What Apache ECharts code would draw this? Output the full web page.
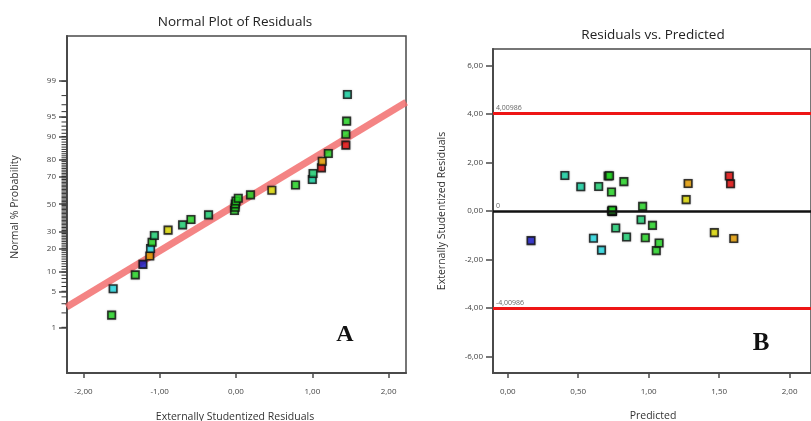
<!DOCTYPE html>
<html>
<head>
<meta charset="utf-8">
<script src="https://cdn.jsdelivr.net/npm/echarts@6/dist/echarts.min.js"></script>
<style>
  html, body { margin: 0; padding: 0; background: #ffffff; }
  #chart { width: 811px; height: 421px; }
</style>
</head>
<body>
<div id="chart"></div>
<script>
// ---- Design runs, ordered by externally studentized residual (ascending) ----
const residuals = [
  -1.63, -1.61, -1.32, -1.22, -1.13, -1.12, -1.10, -1.07, -0.89, -0.70,
  -0.59, -0.36, -0.02, -0.01, -0.01, 0.00, 0.03, 0.19, 0.47, 0.78,
  1.00, 1.01, 1.12, 1.13, 1.21, 1.44, 1.44, 1.45, 1.46
];
// Normal % probability of each ranked residual
const normalPct = [
  1.8, 5.5, 9.1, 12.8, 16.4, 20.1, 23.6, 27.7, 31.2, 34.8,
  38.6, 42.0, 45.3, 47.7, 50.2, 52.4, 54.5, 57.0, 60.4, 64.2,
  68.0, 71.9, 75.4, 79.2, 83.1, 86.8, 90.7, 94.2, 98.1
];
// Predicted response of each run
const predicted = [
  1.054, 0.665, 1.074, 0.165, 1.604, 0.608, 0.976, 0.843, 1.466, 0.766,
  1.027, 0.946, 0.741, 0.741, 0.741, 0.741, 0.741, 0.957, 1.266, 0.736,
  0.518, 0.645, 1.581, 1.280, 0.824, 1.572, 0.712, 0.722, 0.405
];
// Response band of each run (0 = lowest response ... 7 = highest)
const responseBand = [
  4, 1, 4, 0, 6, 1, 4, 3, 5, 3,
  4, 3, 4, 4, 4, 4, 4, 4, 5, 4,
  2, 3, 7, 6, 4, 7, 4, 4, 2
];

// Reference line of the normal plot (residual, % probability at its ends)
const fitResid = [-2.22, 2.23];
const fitPct = [2.6, 97.3];

// Control limits on the residuals vs. predicted plot
const limitValues = [4.00986, 0, -4.00986];
const limitLabels = ['4,00986', '0', '-4,00986'];

// Tick values
const probLabelTicks = [1, 5, 10, 20, 30, 50, 70, 80, 90, 95, 99];
const residTicks = [-2, -1, 0, 1, 2];
const predTicks = [0, 0.5, 1, 1.5, 2];
const resYTicks = [-6, -4, -2, 0, 2, 4, 6];

// ---- styling ----
const bandColors = ['#1b1bd0', '#28e4ec', '#14d8a6', '#1ed878', '#26e026', '#e6e200', '#f0a400', '#ee0a0a'];
const axisColor = '#4a4a4a';
const labelColor = '#444444';
const uiFont = '"Open Sans", "Noto Sans", sans-serif';

const residMin = -2.215, residMax = 2.228;
const zMin = -3.19, zMax = 3.18;

// inverse standard normal CDF (probability paper scale)
function probit(p) {
  const a = [-3.969683028665376e+01, 2.209460984245205e+02, -2.759285104469687e+02, 1.383577518672690e+02, -3.066479806614716e+01, 2.506628277459239e+00];
  const b = [-5.447609879822406e+01, 1.615858368580409e+02, -1.556989798598866e+02, 6.680131188771972e+01, -1.328068155288572e+01];
  const c = [-7.784894002430293e-03, -3.223964580411365e-01, -2.400758277161838e+00, -2.549732539343734e+00, 4.374664141464968e+00, 2.938163982698783e+00];
  const d = [7.784695709041462e-03, 3.224671290700398e-01, 2.445134137142996e+00, 3.754408661907416e+00];
  const pl = 0.02425, ph = 1 - pl;
  let q, r;
  if (p < pl) {
    q = Math.sqrt(-2 * Math.log(p));
    return (((((c[0] * q + c[1]) * q + c[2]) * q + c[3]) * q + c[4]) * q + c[5]) / ((((d[0] * q + d[1]) * q + d[2]) * q + d[3]) * q + 1);
  }
  if (p <= ph) {
    q = p - 0.5; r = q * q;
    return (((((a[0] * r + a[1]) * r + a[2]) * r + a[3]) * r + a[4]) * r + a[5]) * q / (((((b[0] * r + b[1]) * r + b[2]) * r + b[3]) * r + b[4]) * r + 1);
  }
  q = Math.sqrt(-2 * Math.log(1 - p));
  return -(((((c[0] * q + c[1]) * q + c[2]) * q + c[3]) * q + c[4]) * q + c[5]) / ((((d[0] * q + d[1]) * q + d[2]) * q + d[3]) * q + 1);
}

// minor ticks at every whole percent on the probability axis
const probMinorTicks = [];
for (let p = 1; p <= 99; p++) probMinorTicks.push(p);

const probLabelZ = probLabelTicks.map(p => probit(p / 100));
const probMinorZ = probMinorTicks.map(p => probit(p / 100));

function probFormatter(v) {
  let best = 0;
  probLabelZ.forEach((z, i) => { if (Math.abs(z - v) < Math.abs(probLabelZ[best] - v)) best = i; });
  return String(probLabelTicks[best]);
}
const commaFmt = v => v.toFixed(2).replace('.', ',');

const tickLabelStyle = { color: labelColor, fontSize: 8, fontFamily: uiFont };
const markerStyle = { borderColor: '#111111', borderWidth: 1.6, shadowBlur: 2, shadowColor: 'rgba(0,0,0,0.35)' };

const chart = echarts.init(document.getElementById('chart'), null, { renderer: 'canvas' });

chart.setOption({
  animation: false,
  backgroundColor: '#ffffff',
  grid: [
    { left: 67, top: 36, width: 339, height: 337, show: true, borderColor: axisColor, borderWidth: 1.5, backgroundColor: 'transparent' },
    { left: 493, top: 49, width: 334, height: 324, show: true, borderColor: axisColor, borderWidth: 1.5, backgroundColor: 'transparent' }
  ],
  xAxis: [
    {
      type: 'value', gridIndex: 0, min: residMin, max: residMax,
      splitLine: { show: false },
      axisLine: { show: true, onZero: false, lineStyle: { color: axisColor, width: 2 } },
      axisTick: { show: true, customValues: residTicks, length: 5, lineStyle: { color: axisColor, width: 1.5 } },
      axisLabel: { show: true, customValues: residTicks, formatter: commaFmt, margin: 15, ...tickLabelStyle }
    },
    {
      type: 'value', gridIndex: 1, min: -0.105, max: 2.152,
      splitLine: { show: false },
      axisLine: { show: true, onZero: false, lineStyle: { color: axisColor, width: 2 } },
      axisTick: { show: true, customValues: predTicks, length: 5, lineStyle: { color: axisColor, width: 1.5 } },
      axisLabel: { show: true, customValues: predTicks, formatter: commaFmt, margin: 15, ...tickLabelStyle }
    }
  ],
  yAxis: [
    {
      type: 'value', gridIndex: 0, min: zMin, max: zMax,
      splitLine: { show: false },
      axisLine: { show: true, onZero: false, lineStyle: { color: axisColor, width: 2 } },
      axisTick: { show: true, customValues: probLabelZ, length: 8, lineStyle: { color: axisColor, width: 1.5 } },
      axisLabel: { show: true, customValues: probLabelZ, formatter: probFormatter, margin: 11, ...tickLabelStyle }
    },
    {
      type: 'value', gridIndex: 1, min: -6.67, max: 6.67,
      splitLine: { show: false },
      axisLine: { show: true, onZero: false, lineStyle: { color: axisColor, width: 2 } },
      axisTick: { show: true, customValues: resYTicks, length: 7, lineStyle: { color: axisColor, width: 1.5 } },
      axisLabel: { show: true, customValues: resYTicks, formatter: commaFmt, margin: 10, ...tickLabelStyle }
    }
  ],
  series: [
    {
      // short minor ticks at each whole percent, hung off the left of the probability axis
      type: 'scatter', xAxisIndex: 0, yAxisIndex: 0, z: 5, silent: true, clip: false,
      symbol: 'rect', symbolSize: [5, 1], symbolOffset: [-3, 0],
      itemStyle: { color: '#333333', opacity: 1 },
      data: probMinorZ.map(z => [residMin, z])
    },
    {
      // straight reference line on the normal probability plot
      type: 'line', xAxisIndex: 0, yAxisIndex: 0, z: 2, silent: true,
      symbol: 'none',
      lineStyle: { color: 'rgba(242,110,110,0.85)', width: 7 },
      data: fitResid.map((r, i) => [r, probit(fitPct[i] / 100)])
    },
    {
      type: 'scatter', xAxisIndex: 0, yAxisIndex: 0, z: 4,
      symbol: 'rect', symbolSize: 7.5,
      data: residuals.map((r, i) => ({
        value: [r, probit(normalPct[i] / 100)],
        itemStyle: { color: bandColors[responseBand[i]], ...markerStyle }
      }))
    },
    {
      // limit lines and zero line
      type: 'line', xAxisIndex: 1, yAxisIndex: 1, z: 2, silent: true,
      data: [],
      markLine: {
        silent: true, symbol: 'none',
        data: limitValues.map((v, i) => ({
          yAxis: v,
          lineStyle: v === 0 ? { color: '#111111', width: 2.5, type: 'solid' } : { color: '#ee1515', width: 3, type: 'solid' },
          label: { show: true, formatter: limitLabels[i], position: 'insideStartTop', distance: [3, 2], color: '#666666', fontSize: 7, fontFamily: uiFont }
        }))
      }
    },
    {
      type: 'scatter', xAxisIndex: 1, yAxisIndex: 1, z: 4,
      symbol: 'rect', symbolSize: 7.5,
      data: predicted.map((p, i) => ({
        value: [p, residuals[i]],
        itemStyle: { color: bandColors[responseBand[i]], ...markerStyle }
      }))
    }
  ],
  graphic: [
    { type: 'text', x: 235, y: 22, style: { text: 'Normal Plot of Residuals', align: 'center', verticalAlign: 'middle', fill: '#222222', font: '13.5px "Open Sans", sans-serif' } },
    { type: 'text', x: 653, y: 35, style: { text: 'Residuals vs. Predicted', align: 'center', verticalAlign: 'middle', fill: '#222222', font: '13.5px "Open Sans", sans-serif' } },
    { type: 'text', x: 235, y: 417, style: { text: 'Externally Studentized Residuals', align: 'center', verticalAlign: 'middle', fill: '#333333', font: '10.5px "Open Sans", sans-serif' } },
    { type: 'text', x: 653, y: 416, style: { text: 'Predicted', align: 'center', verticalAlign: 'middle', fill: '#333333', font: '10.5px "Open Sans", sans-serif' } },
    { type: 'text', x: 15, y: 207, rotation: Math.PI / 2, style: { text: 'Normal % Probability', align: 'center', verticalAlign: 'middle', fill: '#333333', font: '10.5px "Open Sans", sans-serif' } },
    { type: 'text', x: 442, y: 211, rotation: Math.PI / 2, style: { text: 'Externally Studentized Residuals', align: 'center', verticalAlign: 'middle', fill: '#333333', font: '10.5px "Open Sans", sans-serif' } },
    { type: 'text', x: 345, y: 335, style: { text: 'A', align: 'center', verticalAlign: 'middle', fill: '#111111', font: 'bold 24px "Liberation Serif", "DejaVu Serif", serif' } },
    { type: 'text', x: 761, y: 344, style: { text: 'B', align: 'center', verticalAlign: 'middle', fill: '#111111', font: 'bold 25px "Liberation Serif", "DejaVu Serif", serif' } }
  ]
});
</script>
</body>
</html>
